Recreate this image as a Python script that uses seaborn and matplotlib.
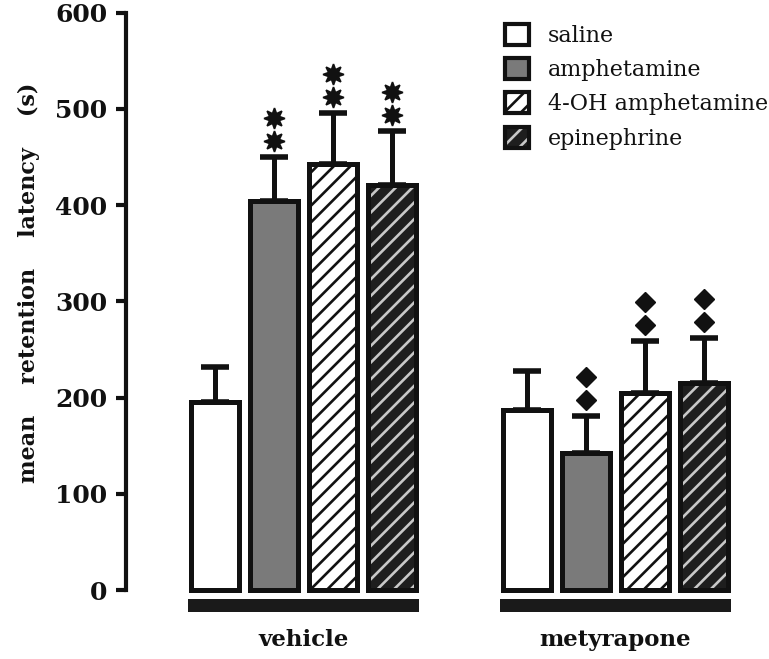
import matplotlib
matplotlib.use("Agg")
import matplotlib.pyplot as plt
import seaborn as sns
import pandas as pd
from matplotlib.patches import Rectangle, Patch

# ---------------- data ----------------
groups = ["vehicle", "metyrapone"]
treatments = ["saline", "amphetamine", "4-OH amphetamine", "epinephrine"]
vehicle_means = [195, 404, 443, 421]
vehicle_sem = [37, 46, 53, 56]
metyrapone_means = [187, 142, 205, 215]
metyrapone_sem = [41, 39, 54, 47]
vehicle_stars = [0, 2, 2, 2]          # number of asterisks above bar
metyrapone_diamonds = [0, 2, 2, 2]    # number of diamonds above bar
y_ticks = [0, 100, 200, 300, 400, 500, 600]
y_label = "mean    retention    latency    (s)"

# ---------------- style ----------------
sns.set_theme(style="ticks")
plt.rcParams["font.family"] = ["DejaVu Serif"]
plt.rcParams["hatch.linewidth"] = 1.9
INK = "#111111"

styles = {
    "saline": dict(face="white", hatch=None, hcol=INK),
    "amphetamine": dict(face="#7a7a7a", hatch=None, hcol=INK),
    "4-OH amphetamine": dict(face="white", hatch="//", hcol=INK),
    "epinephrine": dict(face="#1e1e1e", hatch="//", hcol="#c8c8c8"),
}

df = pd.DataFrame({
    "group": [g for g in groups for _ in treatments],
    "treatment": treatments * len(groups),
    "value": vehicle_means + metyrapone_means,
})
sems = {"vehicle": vehicle_sem, "metyrapone": metyrapone_sem}
marks = {"vehicle": vehicle_stars, "metyrapone": metyrapone_diamonds}

fig = plt.figure(figsize=(7.69, 6.59), dpi=100)
ax = fig.add_axes([126 / 769, 40 / 659, 643 / 769, 614 / 659])

sns.barplot(data=df, x="group", y="value", hue="treatment", order=groups,
            hue_order=treatments, width=0.756, gap=0.18, errorbar=None,
            legend=False, palette=["white"] * 4, ax=ax)

LW = 3.6
bar_containers = list(ax.containers)
for ti, cont in enumerate(bar_containers):
    tr = treatments[ti]
    st = styles[tr]
    for gi, bar in enumerate(cont):
        g = groups[gi]
        bar.set_facecolor(st["face"])
        bar.set_zorder(3)
        if st["hatch"]:
            bar.set_hatch(st["hatch"])
        bar.set_edgecolor(st["hcol"] if st["hatch"] else INK)
        bar.set_linewidth(0 if st["hcol"] != INK else LW)
        if st["hcol"] != INK:
            ax.add_patch(Rectangle((bar.get_x(), bar.get_y()), bar.get_width(),
                                   bar.get_height(), fill=False, edgecolor=INK,
                                   linewidth=LW, zorder=4))
        xc = bar.get_x() + bar.get_width() / 2
        h = bar.get_height()
        err = sems[g][ti]
        ax.errorbar([xc], [h], yerr=[[0], [err]], fmt="none", ecolor=INK,
                    elinewidth=3.6, capsize=10, capthick=4, zorder=2)
        n = marks[g][ti]
        for k in range(n):
            yk = h + err + 16.6 + k * 24.0
            if g == "vehicle":
                ax.plot([xc], [yk], marker=(8, 1, 0), markersize=15, color=INK,
                        markeredgewidth=1.2, linestyle="none", zorder=5)
            else:
                ax.plot([xc], [yk], marker="D", markersize=10, color=INK,
                        linestyle="none", zorder=5)

# black bars under groups
for gi in range(len(groups)):
    ax.add_patch(Rectangle((gi - 0.37, -23), 0.74, 13.6, facecolor="#1a1a1a",
                           edgecolor="none", zorder=3, clip_on=False))

ax.set_xlim(-0.569, 1.492)
ax.set_ylim(-30, 608)

for s in ["top", "right", "bottom"]:
    ax.spines[s].set_visible(False)
ax.spines["left"].set_bounds(0, 600)
ax.spines["left"].set_linewidth(3)
ax.spines["left"].set_color(INK)

ax.set_yticks(y_ticks)
ax.set_yticklabels([str(v) for v in y_ticks], fontweight="bold", fontsize=18,
                   color=INK)
ax.tick_params(axis="y", direction="out", length=7, width=3, pad=6.5,
               color=INK, left=True)
ax.set_xticks(range(len(groups)))
ax.set_xticklabels(groups, fontweight="bold", fontsize=16.5, color=INK)
ax.tick_params(axis="x", length=0, pad=7.5, bottom=False)
ax.set_xlabel("")
ax.set_ylabel(y_label, fontweight="bold", fontsize=16, color=INK)
ax.yaxis.set_label_coords(-0.134, 0.548)

# legend
handles = []
for tr in treatments:
    st = styles[tr]
    if st["hcol"] != INK:
        handles.append((Patch(facecolor=st["face"], hatch=st["hatch"],
                              edgecolor=st["hcol"], linewidth=0),
                        Patch(fill=False, edgecolor=INK, linewidth=3)))
    else:
        handles.append(Patch(facecolor=st["face"], hatch=st["hatch"],
                             edgecolor=INK, linewidth=3))
fig.legend(handles, treatments, loc="upper left",
           bbox_to_anchor=(505 / 769, 1 - 24 / 659), frameon=False,
           fontsize=16, handlelength=1.08, handleheight=1.08,
           handletextpad=0.85, labelspacing=0.5, borderpad=0,
           borderaxespad=0, labelcolor=INK)

fig.savefig("out.png", dpi=100, facecolor="white")
